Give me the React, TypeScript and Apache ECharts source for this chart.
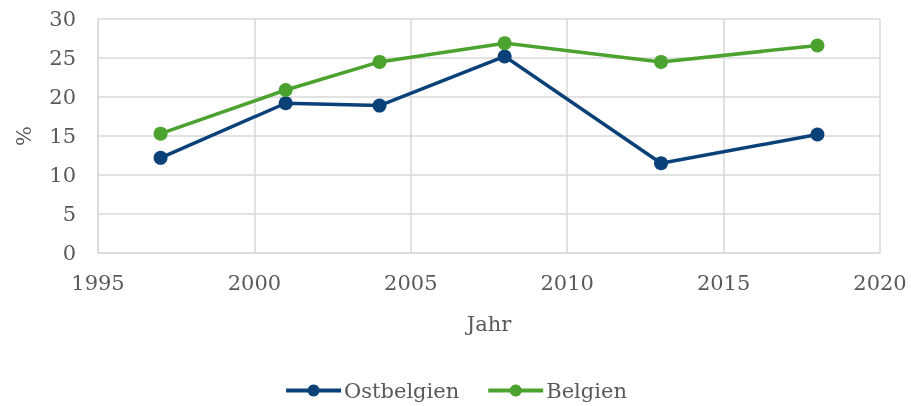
import React, { useEffect, useRef } from "react";
import * as echarts from "echarts";

const years = [1997, 2001, 2004, 2008, 2013, 2018];
const ostbelgien = [12.2, 19.2, 18.9, 25.2, 11.5, 15.2];
const belgien = [15.3, 20.9, 24.5, 26.9, 24.5, 26.6];
const seriesNames = ["Ostbelgien", "Belgien"];
const xAxisName = "Jahr";
const yAxisName = "%";

const FONT = "DejaVu Serif";
const TXT = "#595959";

export default function App() {
  const ref = useRef<HTMLDivElement>(null);
  useEffect(() => {
    document.body.style.margin = "0";
    const chart = echarts.init(ref.current!, undefined, { renderer: "svg" });
    chart.setOption({
      animation: false,
      textStyle: { fontFamily: FONT },
      grid: { left: 98, right: 31, top: 19, bottom: 153 },
      xAxis: {
        type: "value",
        min: 1995,
        max: 2020,
        interval: 5,
        name: xAxisName,
        nameLocation: "middle",
        nameGap: 60,
        nameTextStyle: { color: TXT, fontSize: 21, fontFamily: FONT, fontWeight: 300 },
        axisLine: { show: true, lineStyle: { color: "#d9d9d9", width: 1.5 } },
        axisTick: { show: false },
        splitLine: { show: true, lineStyle: { color: "#d9d9d9", width: 1.5 } },
        axisLabel: {
          color: TXT, fontSize: 21, fontFamily: FONT, fontWeight: 300, margin: 19,
          formatter: (v: number) => String(v),
        },
      },
      yAxis: {
        type: "value",
        min: 0,
        max: 30,
        interval: 5,
        name: yAxisName,
        nameLocation: "middle",
        nameGap: 64,
        nameTextStyle: { color: TXT, fontSize: 21, fontFamily: FONT, fontWeight: 300 },
        axisLine: { show: true, lineStyle: { color: "#d9d9d9", width: 1.5 } },
        axisTick: { show: false },
        splitLine: { show: true, lineStyle: { color: "#d9d9d9", width: 1.5 } },
        axisLabel: { color: TXT, fontSize: 21, fontFamily: FONT, fontWeight: 300, margin: 22 },
      },
      legend: {
        bottom: 0,
        left: "center",
        itemWidth: 55,
        itemHeight: 15,
        itemGap: 27,
        textStyle: { color: TXT, fontSize: 21, fontFamily: FONT, padding: [0, 0, 0, -2] },
        data: seriesNames.map((n) => ({ name: n, lineStyle: { width: 4 } })),
      },
      series: [
        {
          name: seriesNames[0],
          type: "line",
          data: years.map((y, i) => [y, ostbelgien[i]]),
          color: "#0b4179",
          symbol: "circle",
          symbolSize: 14,
          lineStyle: { width: 3.5 },
        },
        {
          name: seriesNames[1],
          type: "line",
          data: years.map((y, i) => [y, belgien[i]]),
          color: "#4ca22e",
          symbol: "circle",
          symbolSize: 14,
          lineStyle: { width: 3.5 },
        },
      ],
    });
    return () => chart.dispose();
  }, []);
  return <div ref={ref} style={{ position: "fixed", left: 0, top: 0, width: 911, height: 406 }} />;
}
